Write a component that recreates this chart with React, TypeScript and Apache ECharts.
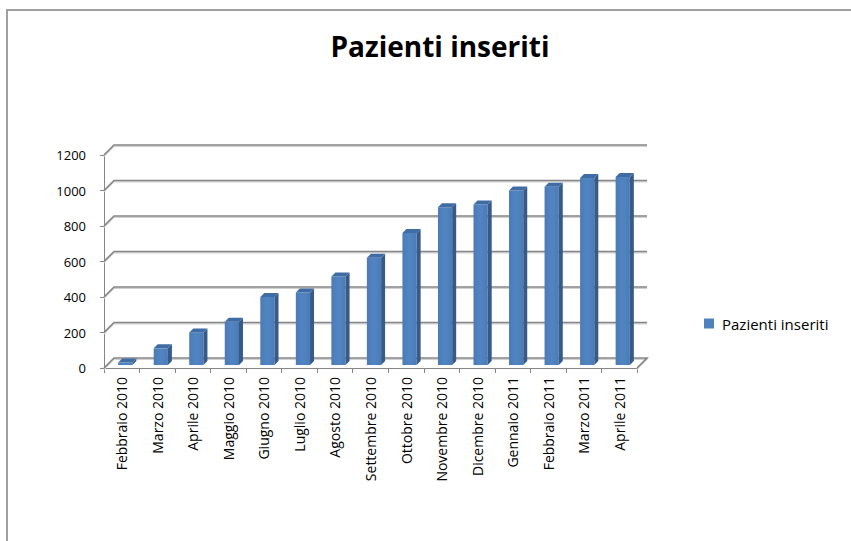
import React, { useEffect, useRef } from 'react';
import * as echarts from 'echarts';

const categories = [
  'Febbraio 2010', 'Marzo 2010', 'Aprile 2010', 'Maggio 2010', 'Giugno 2010',
  'Luglio 2010', 'Agosto 2010', 'Settembre 2010', 'Ottobre 2010', 'Novembre 2010',
  'Dicembre 2010', 'Gennaio 2011', 'Febbraio 2011', 'Marzo 2011', 'Aprile 2011',
];
const values = [25, 105, 195, 255, 395, 420, 510, 615, 755, 900, 915, 995, 1015, 1065, 1070];
const yTicks = [0, 200, 400, 600, 800, 1000, 1200];
const seriesName = 'Pazienti inseriti';
const titleText = 'Pazienti inseriti';

const FONT = "'Open Sans', 'Noto Sans', sans-serif";
const DX = 10; // wall depth x
const DY = 10; // wall depth y
const SX = 3.5; // bar shift from front plane
const SY = 3;
const BD = 4; // bar depth

export default function App() {
  const ref = useRef<HTMLDivElement>(null);
  useEffect(() => {
    if (!ref.current) return;
    const chart = echarts.init(ref.current, undefined, { renderer: 'svg' });
    const option: any = {
      animation: false,
      backgroundColor: '#ffffff',
      title: {
        text: titleText,
        left: 435,
        top: 27,
        textAlign: 'center',
        textStyle: {
          fontSize: 28,
          fontWeight: 'bold',
          color: '#000',
          fontFamily: FONT,
        },
      },
      legend: {
        data: [{ name: seriesName, icon: 'rect' }],
        left: 699,
        top: 311,
        itemWidth: 10,
        itemHeight: 10,
        textStyle: { fontSize: 15, color: '#000', fontFamily: FONT, padding: [0, 0, 0, 3] },
      },
      graphic: [
        {
          type: 'rect',
          silent: true,
          shape: { x: 7, y: 10, width: 860, height: 560 },
          style: { fill: 'none', stroke: '#a0a0a0', lineWidth: 2 },
        },
      ],
      grid: { left: 104, top: 155, width: 533, height: 213, containLabel: false },
      xAxis: {
        type: 'category',
        data: categories,
        boundaryGap: true,
        axisLine: { show: true, lineStyle: { color: '#868686', width: 1 } },
        axisTick: { show: true, length: 5, alignWithLabel: false, lineStyle: { color: '#868686' } },
        axisLabel: { rotate: 90, fontSize: 14, color: '#000', margin: 9, fontFamily: FONT, interval: 0 },
        splitLine: { show: false },
      },
      yAxis: {
        type: 'value',
        min: 0,
        max: 1200,
        interval: 200,
        axisLine: { show: true, lineStyle: { color: '#868686', width: 1 } },
        axisTick: { show: true, length: 4, lineStyle: { color: '#868686' } },
        axisLabel: {
          fontSize: 13,
          color: '#000',
          margin: 18,
          fontFamily: FONT,
          formatter: (v: number) => String(v),
        },
        splitLine: { show: false },
      },
      series: [
        {
          type: 'custom',
          name: 'grid3d',
          silent: true,
          z: 1,
          data: yTicks.map((v) => [0, v]),
          encode: { x: 0, y: 1 },
          renderItem: (params: any, api: any) => {
            const v = api.value(1);
            const p = api.coord([0, v]);
            const bw = api.size([1, 0])[0];
            const x0 = p[0] - bw / 2;
            const x1 = x0 + bw * categories.length;
            const y = p[1];
            const pts: number[][] = [[x0, y], [x0 + DX, y - DY], [x1 + DX, y - DY]];
            if (v === 0) pts.push([x1, y]);
            return {
              type: 'group',
              children: [
                {
                  type: 'polyline',
                  shape: { points: pts.map((q) => [q[0], q[1] + 1.3]) },
                  style: { stroke: '#d0d0d0', lineWidth: 1.2, fill: null },
                },
                {
                  type: 'polyline',
                  shape: { points: pts },
                  style: { stroke: '#858585', lineWidth: 1.6, fill: null },
                },
              ],
            };
          },
        },
        {
          type: 'custom',
          name: seriesName,
          z: 2,
          itemStyle: { color: '#4F81BD' },
          data: values.map((v, i) => [i, v]),
          encode: { x: 0, y: 1 },
          renderItem: (params: any, api: any) => {
            const i = api.value(0);
            const v = api.value(1);
            const top = api.coord([i, v]);
            const base = api.coord([i, 0]);
            const bw = api.size([1, 0])[0];
            const w = bw * 0.4;
            const xl = top[0] - w / 2 + SX;
            const xr = xl + w;
            const yt = top[1] - SY + BD / 2;
            const yb = base[1] - SY;
            return {
              type: 'group',
              children: [
                {
                  type: 'rect',
                  shape: { x: xl, y: yt, width: w, height: Math.max(0.5, yb - yt) },
                  style: {
                    fill: new echarts.graphic.LinearGradient(0, 0, 1, 0, [
                      { offset: 0, color: '#4a7bb7' },
                      { offset: 0.5, color: '#5185c2' },
                      { offset: 1, color: '#4a7bb7' },
                    ]),
                  },
                },
                {
                  type: 'polygon',
                  shape: { points: [[xr, yt], [xr + BD, yt - BD], [xr + BD, yb - BD], [xr, yb]] },
                  style: { fill: '#375b87' },
                },
                {
                  type: 'polygon',
                  shape: { points: [[xl, yt], [xl + BD, yt - BD], [xr + BD, yt - BD], [xr, yt]] },
                  style: { fill: '#3f6ca4' },
                },
              ],
            };
          },
        },
      ],
    };
    chart.setOption(option);
    return () => chart.dispose();
  }, []);
  return (
    <div
      ref={ref}
      style={{ position: 'fixed', left: 0, top: 0, width: 851, height: 541, background: '#fff' }}
    />
  );
}
